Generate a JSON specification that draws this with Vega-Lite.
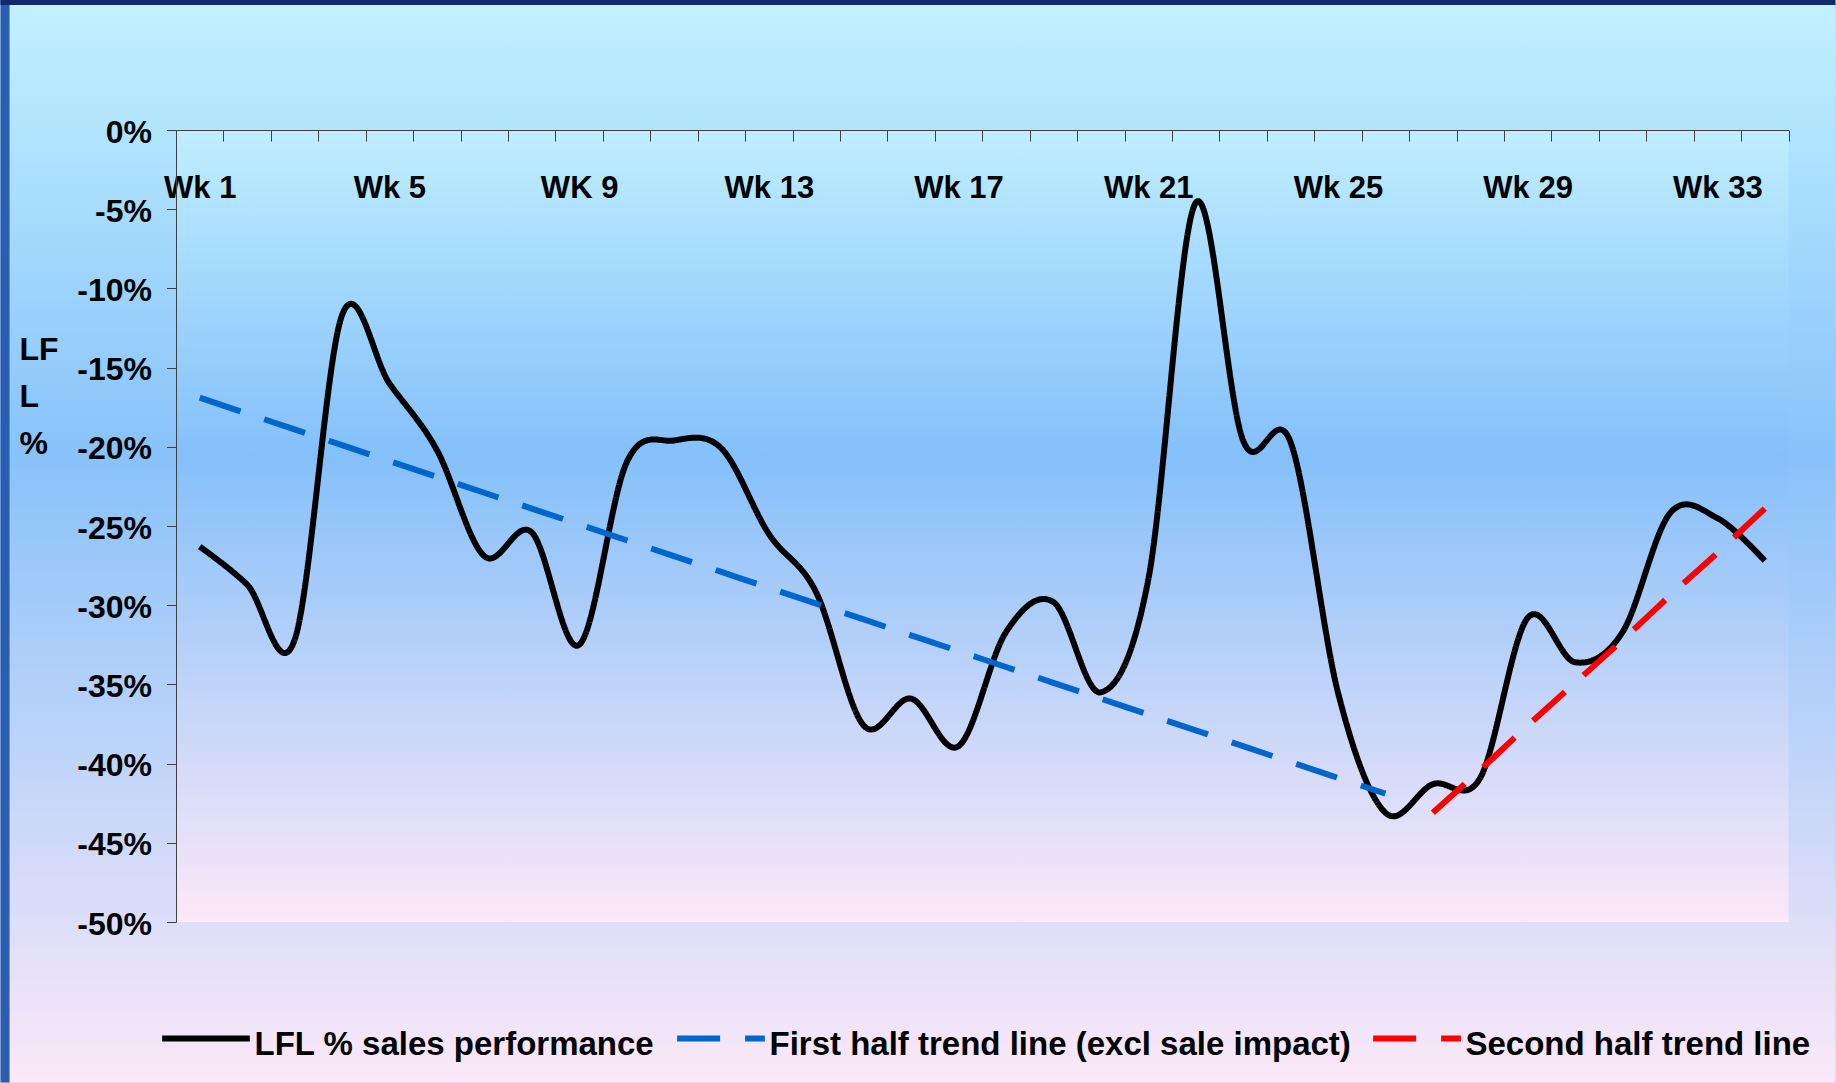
{
  "$schema": "https://vega.github.io/schema/vega-lite/v6.json",
  "width": 1612.5,
  "height": 792,
  "padding": 0,
  "background": "#b8d4f8",
  "config": {
    "view": {"stroke": null},
    "font": "Liberation Sans, Arial, sans-serif",
    "axis": {"labelOverlap": false},
    "axisX": {"labelOverlap": false}
  },
  "datasets": {
    "lines": [
      {"week": 1, "series": "LFL % sales performance", "value": -26.3},
      {"week": 2, "series": "LFL % sales performance", "value": -28.7},
      {"week": 3, "series": "LFL % sales performance", "value": -32.2},
      {"week": 4, "series": "LFL % sales performance", "value": -11.7},
      {"week": 5, "series": "LFL % sales performance", "value": -16.0},
      {"week": 6, "series": "LFL % sales performance", "value": -20.2},
      {"week": 7, "series": "LFL % sales performance", "value": -26.9},
      {"week": 8, "series": "LFL % sales performance", "value": -25.4},
      {"week": 9, "series": "LFL % sales performance", "value": -32.5},
      {"week": 10, "series": "LFL % sales performance", "value": -21.0},
      {"week": 11, "series": "LFL % sales performance", "value": -19.6},
      {"week": 12, "series": "LFL % sales performance", "value": -20.1},
      {"week": 13, "series": "LFL % sales performance", "value": -25.5},
      {"week": 14, "series": "LFL % sales performance", "value": -29.2},
      {"week": 15, "series": "LFL % sales performance", "value": -37.6},
      {"week": 16, "series": "LFL % sales performance", "value": -35.9},
      {"week": 17, "series": "LFL % sales performance", "value": -38.9},
      {"week": 18, "series": "LFL % sales performance", "value": -31.7},
      {"week": 19, "series": "LFL % sales performance", "value": -29.8},
      {"week": 20, "series": "LFL % sales performance", "value": -35.5},
      {"week": 21, "series": "LFL % sales performance", "value": -28.4},
      {"week": 22, "series": "LFL % sales performance", "value": -4.6},
      {"week": 23, "series": "LFL % sales performance", "value": -19.6},
      {"week": 24, "series": "LFL % sales performance", "value": -19.7},
      {"week": 25, "series": "LFL % sales performance", "value": -35.5},
      {"week": 26, "series": "LFL % sales performance", "value": -43.1},
      {"week": 27, "series": "LFL % sales performance", "value": -41.3},
      {"week": 28, "series": "LFL % sales performance", "value": -40.9},
      {"week": 29, "series": "LFL % sales performance", "value": -30.8},
      {"week": 30, "series": "LFL % sales performance", "value": -33.6},
      {"week": 31, "series": "LFL % sales performance", "value": -31.7},
      {"week": 32, "series": "LFL % sales performance", "value": -24.2},
      {"week": 33, "series": "LFL % sales performance", "value": -24.5},
      {"week": 34, "series": "LFL % sales performance", "value": -27.2},
      {"week": 1, "series": "First half trend line (excl sale impact)", "value": -16.9},
      {"week": 2, "series": "First half trend line (excl sale impact)", "value": -17.9},
      {"week": 3, "series": "First half trend line (excl sale impact)", "value": -18.9},
      {"week": 4, "series": "First half trend line (excl sale impact)", "value": -19.9},
      {"week": 5, "series": "First half trend line (excl sale impact)", "value": -20.9},
      {"week": 6, "series": "First half trend line (excl sale impact)", "value": -21.9},
      {"week": 7, "series": "First half trend line (excl sale impact)", "value": -22.9},
      {"week": 8, "series": "First half trend line (excl sale impact)", "value": -23.9},
      {"week": 9, "series": "First half trend line (excl sale impact)", "value": -24.9},
      {"week": 10, "series": "First half trend line (excl sale impact)", "value": -25.9},
      {"week": 11, "series": "First half trend line (excl sale impact)", "value": -26.9},
      {"week": 12, "series": "First half trend line (excl sale impact)", "value": -27.9},
      {"week": 13, "series": "First half trend line (excl sale impact)", "value": -28.9},
      {"week": 14, "series": "First half trend line (excl sale impact)", "value": -29.9},
      {"week": 15, "series": "First half trend line (excl sale impact)", "value": -30.9},
      {"week": 16, "series": "First half trend line (excl sale impact)", "value": -31.9},
      {"week": 17, "series": "First half trend line (excl sale impact)", "value": -32.9},
      {"week": 18, "series": "First half trend line (excl sale impact)", "value": -33.9},
      {"week": 19, "series": "First half trend line (excl sale impact)", "value": -34.9},
      {"week": 20, "series": "First half trend line (excl sale impact)", "value": -35.9},
      {"week": 21, "series": "First half trend line (excl sale impact)", "value": -36.9},
      {"week": 22, "series": "First half trend line (excl sale impact)", "value": -37.9},
      {"week": 23, "series": "First half trend line (excl sale impact)", "value": -38.9},
      {"week": 24, "series": "First half trend line (excl sale impact)", "value": -39.9},
      {"week": 25, "series": "First half trend line (excl sale impact)", "value": -40.9},
      {"week": 26, "series": "First half trend line (excl sale impact)", "value": -41.9},
      {"week": 27, "series": "Second half trend line", "value": -43.1},
      {"week": 28, "series": "Second half trend line", "value": -40.4},
      {"week": 29, "series": "Second half trend line", "value": -37.6},
      {"week": 30, "series": "Second half trend line", "value": -34.9},
      {"week": 31, "series": "Second half trend line", "value": -32.2},
      {"week": 32, "series": "Second half trend line", "value": -29.4},
      {"week": 33, "series": "Second half trend line", "value": -26.7},
      {"week": 34, "series": "Second half trend line", "value": -23.9}
    ]
  },
  "layer": [
    {
      "data": {"values": [{}]},
      "mark": {
        "type": "rect",
        "fill": {
          "gradient": "linear", "x1": 0, "y1": 0, "x2": 0, "y2": 1,
          "stops": [
            {"offset": 0, "color": "#c2f2ff"},
            {"offset": 0.42, "color": "#88c2fa"},
            {"offset": 1, "color": "#fbe8f8"}
          ]
        }
      },
      "encoding": {
        "x": {"datum": -3.2005, "type": "quantitative", "scale": {"domain": [0.5, 34.5], "nice": false, "zero": false}},
        "x2": {"datum": 35.49},
        "y": {"datum": 8.207, "type": "quantitative", "scale": {"domain": [-50, 0], "nice": false, "zero": false}},
        "y2": {"datum": -60.14}
      }
    },
    {
      "data": {"values": [{}]},
      "mark": {"type": "rect", "fill": "#2a5cb0"},
      "encoding": {
        "x": {"datum": -3.2005, "type": "quantitative"},
        "x2": {"datum": -3.01},
        "y": {"datum": 8.207, "type": "quantitative"},
        "y2": {"datum": -60.14}
      }
    },
    {
      "data": {"values": [{}]},
      "mark": {"type": "rect", "fill": "#12296e"},
      "encoding": {
        "x": {"datum": -3.2005, "type": "quantitative"},
        "x2": {"datum": 35.49},
        "y": {"datum": 8.207, "type": "quantitative"},
        "y2": {"datum": 7.89}
      }
    },
    {
      "data": {"values": [{}]},
      "mark": {
        "type": "rect",
        "fill": {
          "gradient": "linear", "x1": 0, "y1": 0, "x2": 0, "y2": 1,
          "stops": [
            {"offset": 0, "color": "#bfeeff"},
            {"offset": 0.41, "color": "#84c0fa"},
            {"offset": 1, "color": "#fce8f8"}
          ]
        }
      },
      "encoding": {
        "x": {"datum": 0.5, "type": "quantitative"},
        "x2": {"datum": 34.5},
        "y": {"datum": 0, "type": "quantitative"},
        "y2": {"datum": -50}
      }
    },
    {
      "data": {"name": "lines"},
      "mark": {"type": "line", "interpolate": "cardinal", "strokeWidth": 6, "strokeJoin": "round", "strokeCap": "butt"},
      "encoding": {
        "x": {
          "field": "week", "type": "quantitative",
          "scale": {"domain": [0.5, 34.5], "nice": false, "zero": false},
          "axis": {
            "orient": "bottom", "offset": -792, "title": null, "grid": false,
            "values": [0.5, 1.5, 2.5, 3.5, 4.5, 5.5, 6.5, 7.5, 8.5, 9.5, 10.5, 11.5, 12.5, 13.5, 14.5, 15.5, 16.5, 17.5, 18.5, 19.5, 20.5, 21.5, 22.5, 23.5, 24.5, 25.5, 26.5, 27.5, 28.5, 29.5, 30.5, 31.5, 32.5, 33.5, 34.5],
            "domain": true, "domainColor": "#404040", "domainWidth": 1,
            "ticks": true, "tickSize": 11, "tickColor": "#404040", "tickWidth": 1,
            "labelExpr": "((datum.value - 0.5) % 4 === 0 && datum.value < 34) ? (datum.value === 8.5 ? 'WK 9' : 'Wk ' + (datum.value + 0.5)) : ''",
            "labelOffset": 23.71,
            "labelFontSize": 31, "labelFontWeight": "bold", "labelColor": "#000000",
            "labelPadding": 32, "labelOverlap": false, "labelFlush": false, "labelBound": false, "labelLimit": 1000,
            "zindex": 1
          }
        },
        "y": {
          "field": "value", "type": "quantitative",
          "scale": {"domain": [-50, 0], "nice": false, "zero": false},
          "axis": {
            "values": [0, -5, -10, -15, -20, -25, -30, -35, -40, -45, -50],
            "labelExpr": "datum.value + '%'",
            "title": ["LF", "L", "%"], "titleAngle": 0, "titleAlign": "left", "titleBaseline": "top",
            "titleX": -157, "titleY": 204, "titleFontSize": 32, "titleFontWeight": "bold", "titleLineHeight": 47, "titleColor": "#000000",
            "grid": false, "domainColor": "#404040", "domainWidth": 1, "tickColor": "#404040", "tickSize": 9.5, "tickWidth": 1,
            "labelPadding": 15, "labelFontSize": 32, "labelFontWeight": "bold", "labelColor": "#000000", "labelOffset": 2,
            "labelFlush": false, "labelOverlap": false, "labelBound": false,
            "zindex": 1
          }
        },
        "color": {
          "field": "series", "type": "nominal",
          "scale": {"domain": ["LFL % sales performance", "First half trend line (excl sale impact)", "Second half trend line"], "range": ["#000000", "#0066cc", "#ff0000"]},
          "legend": {
            "orient": "none", "legendX": -17, "legendY": 861.6, "direction": "horizontal", "title": null,
            "symbolType": "stroke", "symbolSize": 7700, "symbolStrokeWidth": 6,
            "labelFontSize": 33, "labelFontWeight": "bold", "labelColor": "#000000", "labelOffset": 1.5, "labelLimit": 1000,
            "columnPadding": 10, "padding": 0,
            "encode": {"labels": {"update": {"dy": {"value": 6}}}}
          }
        },
        "strokeDash": {
          "field": "series", "type": "nominal",
          "scale": {"domain": ["LFL % sales performance", "First half trend line (excl sale impact)", "Second half trend line"], "range": [[1, 0], [43, 25], [43, 25]]},
          "legend": {
            "orient": "none", "legendX": -17, "legendY": 861.6, "direction": "horizontal", "title": null,
            "symbolType": "stroke", "symbolSize": 7700, "symbolStrokeWidth": 6,
            "labelFontSize": 33, "labelFontWeight": "bold", "labelColor": "#000000", "labelOffset": 1.5, "labelLimit": 1000,
            "columnPadding": 10, "padding": 0,
            "encode": {"labels": {"update": {"dy": {"value": 6}}}}
          }
        }
      }
    }
  ]
}
